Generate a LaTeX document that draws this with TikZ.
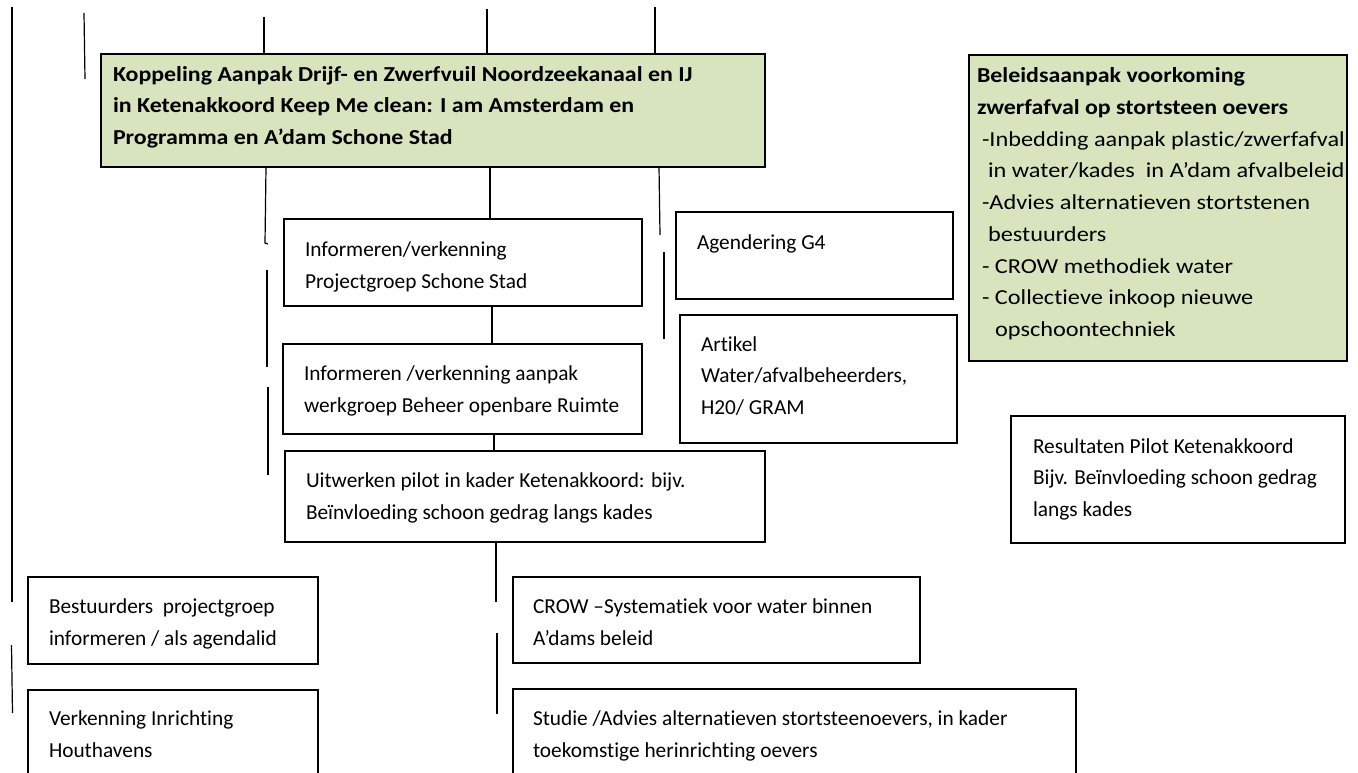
\documentclass[tikz,border=0pt]{standalone}
\usepackage{fontspec}
\setmainfont{Carlito}[Ligatures=NoCommon,BoldFeatures={FakeStretch=1.12}]
\newfontfamily\greenreg{Carlito}[Ligatures=NoCommon,FakeStretch=1.14]
\newcommand\bfmain[1]{{\rmfamily\bfseries #1}}
\definecolor{olivefill}{HTML}{D7E4BD}
\newlength\pxu
\pxu=0.75pt
\begin{document}
\begin{tikzpicture}[x=0.75pt,y=-0.75pt,
  box/.style={draw=black,line width=1.1pt,rectangle,inner sep=0pt,outer sep=0pt,anchor=north west},
  greenbox/.style={box,fill=olivefill},
  lbl/.style={anchor=base west,inner sep=0pt,outer sep=0pt,align=left,font=\fontsize{16}{23.8}\selectfont},
  conn/.style={draw=black,line width=0.9pt}]
\useasboundingbox (0,0) rectangle (1358,773);
\clip (0,0) rectangle (1358,773);
% boxes
\node[greenbox,minimum width=664\pxu,minimum height=113\pxu] (g1) at (101,54) {};
\node[greenbox,minimum width=378\pxu,minimum height=306\pxu] (g2) at (969,55) {};
\node[box,minimum width=358\pxu,minimum height=87\pxu] (inf1) at (284,219) {};
\node[box,minimum width=359\pxu,minimum height=90\pxu] (inf2) at (283,344) {};
\node[box,minimum width=480\pxu,minimum height=91\pxu] (uit) at (285,451) {};
\node[box,minimum width=277\pxu,minimum height=87\pxu] (agd) at (676,212) {};
\node[box,minimum width=277\pxu,minimum height=128\pxu] (art) at (680,315) {};
\node[box,minimum width=334\pxu,minimum height=127\pxu] (res) at (1011,416) {};
\node[box,minimum width=290\pxu,minimum height=87\pxu] (best) at (28,577) {};
\node[box,minimum width=290\pxu,minimum height=120\pxu] (verk) at (28,690) {};
\node[box,minimum width=407\pxu,minimum height=86\pxu] (crow) at (513,577) {};
\node[box,minimum width=563\pxu,minimum height=120\pxu] (stud) at (513,689) {};
% texts (anchored at the baseline of their last line)
\node[lbl,font=\fontsize{16}{23.8}\selectfont\bfseries] (g1t) at (113,144.5) {Koppeling Aanpak Drijf- en Zwerfvuil Noordzeekanaal en IJ\\in Ketenakkoord Keep Me clean: I am Amsterdam en\\Programma en A’dam Schone Stad};
\node[lbl,font=\fontsize{16}{23.8}\selectfont\greenreg] (g2t) at (977,336.5) {\bfmain{Beleidsaanpak voorkoming}\\\bfmain{zwerfafval op stortsteen oevers}\\\hspace*{5\pxu}-Inbedding aanpak plastic/zwerfafval\\\hspace*{11\pxu}in water/kades~ in A’dam afvalbeleid\\\hspace*{5\pxu}-Advies alternatieven stortstenen\\\hspace*{11\pxu}bestuurders\\\hspace*{5\pxu}- CROW methodiek water\\\hspace*{5\pxu}- Collectieve inkoop nieuwe\\\hspace*{18\pxu}opschoontechniek};
\node[lbl] (inf1t) at (305,288.5) {Informeren/verkenning\\Projectgroep Schone Stad};
\node[lbl] (inf2t) at (304,412.5) {Informeren /verkenning aanpak\\werkgroep Beheer openbare Ruimte};
\node[lbl] (uitt) at (306,519.5) {Uitwerken pilot in kader Ketenakkoord: bijv.\\Beïnvloeding schoon gedrag langs kades};
\node[lbl] (agdt) at (697,249.5) {Agendering G4};
\node[lbl] (artt) at (701,414.5) {Artikel\\Water/afvalbeheerders,\\H20/ GRAM};
\node[lbl] (rest) at (1033,516.5) {Resultaten Pilot Ketenakkoord\\Bijv. Beïnvloeding schoon gedrag\\langs kades};
\node[lbl] (bestt) at (49,645.5) {Bestuurders~ projectgroep\\informeren / als agendalid};
\node[lbl] (verkt) at (49,757.5) {Verkenning Inrichting\\Houthavens};
\node[lbl] (crowt) at (533,645.5) {CROW –Systematiek voor water binnen\\A’dams beleid};
\node[lbl] (studt) at (533,757.5) {Studie /Advies alternatieven stortsteenoevers, in kader\\toekomstige herinrichting oevers};
% connector helpers
\coordinate (a1) at (12,7);   \coordinate (a2) at (12,602);
\coordinate (a3) at (11.5,645); \coordinate (a4) at (12.5,713);
\coordinate (b1) at (84,13);  \coordinate (b2) at (85,79);
\coordinate (c1) at (264,17);
\coordinate (cx) at (266,0);  \coordinate (c2) at (265,243); \coordinate (c2h) at (268,244);
\coordinate (c3) at (267,270); \coordinate (c4) at (267,367);
\coordinate (c5) at (268,387); \coordinate (c6) at (268,475);
\coordinate (d1) at (487,9);
\coordinate (dx) at (490,0);
\coordinate (dy) at (492,0);
\coordinate (dz) at (494,0);
\coordinate (dw) at (496,0);  \coordinate (d4) at (496,602);
\coordinate (d5) at (497,633); \coordinate (d6) at (497,714);
\coordinate (e1) at (655,7);
\coordinate (ex) at (659,0);  \coordinate (e2) at (660,235);
\coordinate (e3) at (664,252); \coordinate (e4) at (664,339);
% connectors
\draw[conn] (a1) -- (a2);
\draw[conn] (a3) -- (a4);
\draw[conn] (b1) -- (b2);
\draw[conn] (c1) -- (c1 |- g1.north);
\draw[conn] (cx |- g1.south) -- (c2) -- (c2h);
\draw[conn] (c3) -- (c4);
\draw[conn] (c5) -- (c6);
\draw[conn] (d1) -- (d1 |- g1.north);
\draw[conn] (dx |- g1.south) -- (dx |- inf1.north);
\draw[conn] (dy |- inf1.south) -- (dy |- inf2.north);
\draw[conn] (dz |- inf2.south) -- (dz |- uit.north);
\draw[conn] (dw |- uit.south) -- (d4);
\draw[conn] (d5) -- (d6);
\draw[conn] (e1) -- (e1 |- g1.north);
\draw[conn] (ex |- g1.south) -- (e2);
\draw[conn] (e3) -- (e4);
\end{tikzpicture}
\end{document}
